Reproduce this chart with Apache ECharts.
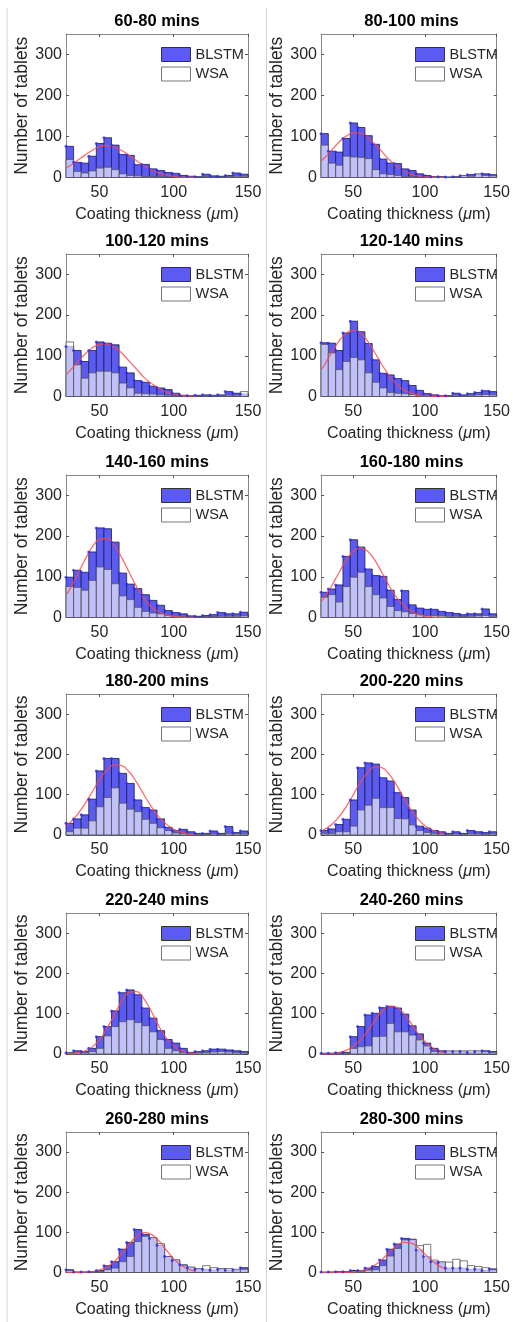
<!DOCTYPE html>
<html>
<head>
<meta charset="utf-8">
<script src="https://cdn.jsdelivr.net/npm/echarts@6/dist/echarts.min.js"></script>
<style>
  html, body { margin: 0; padding: 0; background: #fff; }
  #chart { width: 513px; height: 1322px; }
</style>
</head>
<body>
<div id="chart"></div>
<script>
// Coating-thickness histograms, one panel per 20-minute window.
const panelTitles = ['60-80 mins', '80-100 mins', '100-120 mins', '120-140 mins',
  '140-160 mins', '160-180 mins', '180-200 mins', '200-220 mins',
  '220-240 mins', '240-260 mins', '260-280 mins', '280-300 mins'];

// Histogram bins (µm): 24 equal bins from binLo to binHi
const binLo = 27.5;
const binHi = 150;
const binCount = 24;

const xTicks = [50, 100, 150];
const yTicks = [0, 100, 200, 300];

// Counts per bin, BLSTM and WSA
const blstm_60_80 = [76, 37, 35, 52, 83, 97, 79, 56, 54, 31, 32, 21, 17, 12, 10, 5, 3, 2, 8, 4, 3, 5, 11, 8];
const wsa_60_80   = [44, 15, 11, 16, 23, 25, 19, 9, 5, 4, 2, 2, 2, 1, 1, 1, 1, 0, 2, 1, 1, 2, 3, 3];

const blstm_80_100 = [107, 64, 62, 95, 133, 122, 102, 81, 45, 35, 34, 21, 17, 9, 5, 2, 2, 1, 2, 4, 7, 7, 9, 7];
const wsa_80_100   = [79, 35, 30, 52, 50, 49, 46, 19, 9, 7, 5, 2, 2, 1, 1, 1, 1, 1, 2, 5, 3, 9, 5, 4];

const blstm_100_120 = [123, 113, 86, 113, 134, 131, 127, 72, 58, 39, 35, 25, 21, 17, 8, 3, 2, 3, 4, 3, 4, 12, 8, 6];
const wsa_100_120   = [134, 78, 45, 58, 62, 62, 58, 33, 21, 8, 7, 6, 4, 3, 2, 1, 1, 1, 2, 2, 2, 3, 3, 12];

const blstm_120_140 = [132, 131, 113, 156, 185, 159, 130, 90, 57, 53, 44, 39, 27, 15, 7, 4, 2, 2, 8, 4, 7, 10, 14, 12];
const wsa_120_140   = [128, 107, 66, 86, 96, 90, 58, 35, 21, 10, 8, 7, 5, 3, 2, 1, 1, 1, 3, 2, 3, 4, 5, 4];

const blstm_140_160 = [99, 116, 111, 161, 220, 218, 185, 109, 82, 71, 56, 42, 30, 17, 12, 9, 4, 3, 5, 7, 12, 9, 9, 13];
const wsa_140_160   = [76, 74, 67, 91, 124, 118, 83, 53, 44, 25, 15, 11, 9, 5, 3, 2, 1, 1, 2, 2, 3, 3, 3, 4];

const blstm_160_180 = [62, 70, 80, 150, 191, 173, 119, 103, 101, 67, 44, 66, 31, 23, 20, 20, 15, 12, 10, 7, 9, 9, 21, 9];
const wsa_160_180   = [50, 56, 38, 76, 99, 111, 76, 56, 48, 27, 17, 14, 10, 7, 5, 5, 4, 3, 3, 2, 3, 4, 5, 3];

const blstm_180_200 = [29, 40, 50, 89, 159, 190, 190, 153, 128, 87, 68, 62, 40, 19, 11, 14, 8, 4, 4, 10, 4, 21, 6, 10];
const wsa_180_200   = [8, 17, 17, 35, 70, 93, 117, 79, 64, 58, 39, 29, 18, 11, 5, 4, 3, 2, 2, 3, 2, 4, 3, 3];

const blstm_200_220 = [11, 15, 26, 39, 87, 167, 179, 176, 142, 134, 105, 93, 62, 22, 17, 11, 8, 4, 8, 4, 11, 8, 6, 8];
const wsa_200_220   = [4, 4, 8, 8, 22, 62, 74, 91, 68, 68, 41, 40, 25, 11, 6, 4, 3, 2, 3, 2, 3, 3, 2, 3];

const blstm_220_240 = [3, 8, 6, 14, 43, 68, 107, 152, 159, 147, 114, 89, 58, 36, 27, 14, 4, 6, 8, 12, 12, 10, 8, 6];
const wsa_220_240   = [2, 4, 3, 6, 14, 45, 68, 80, 85, 78, 70, 55, 36, 14, 8, 4, 2, 3, 4, 5, 6, 5, 4, 3];

const blstm_240_260 = [2, 2, 3, 4, 43, 68, 97, 101, 115, 118, 114, 99, 70, 50, 27, 14, 8, 6, 6, 6, 4, 6, 8, 6];
const wsa_240_260   = [1, 1, 2, 2, 14, 18, 20, 43, 44, 76, 55, 55, 47, 35, 20, 6, 5, 8, 8, 8, 8, 8, 6, 4];

const blstm_260_280 = [7, 1, 1, 2, 5, 17, 27, 58, 75, 107, 95, 85, 68, 40, 30, 19, 12, 8, 8, 6, 8, 6, 6, 12];
const wsa_260_280   = [5, 1, 1, 1, 2, 7, 11, 27, 40, 77, 90, 87, 72, 40, 32, 18, 14, 10, 17, 12, 10, 10, 8, 8];

const blstm_280_300 = [1, 1, 2, 2, 5, 5, 11, 15, 31, 58, 71, 85, 83, 56, 40, 27, 25, 11, 11, 11, 8, 9, 5, 9];
const wsa_280_300   = [0, 1, 1, 2, 3, 3, 6, 7, 17, 41, 60, 81, 82, 67, 70, 31, 27, 26, 33, 29, 17, 15, 12, 7];

// Fitted normal curves, sampled at fitX
const fitX = [28, 30, 35, 40, 45, 50, 55, 60, 65, 70, 75, 80, 85, 90, 95, 100, 105, 110, 115];
const fit_60_80   = [24, 28, 41, 54, 66, 75, 78, 75, 66, 54, 41, 28, 18, 11, 6, 3, 1, 1, 0];
const fit_80_100  = [41, 48, 67, 86, 101, 109, 108, 98, 82, 63, 44, 28, 17, 9, 4, 2, 1, 0, 0];
const fit_100_120 = [55, 63, 83, 103, 119, 128, 129, 122, 107, 87, 67, 47, 32, 20, 11, 6, 3, 1, 1];
const fit_120_140 = [67, 78, 108, 136, 156, 163, 156, 136, 108, 78, 52, 31, 17, 9, 4, 2, 1, 0, 0];
const fit_140_160 = [57, 69, 104, 140, 172, 192, 194, 177, 147, 111, 76, 47, 26, 14, 6, 3, 1, 0, 0];
const fit_160_180 = [40, 50, 78, 110, 141, 163, 171, 163, 141, 110, 78, 50, 30, 16, 8, 3, 1, 0, 0];
const fit_180_200 = [23, 30, 50, 76, 106, 137, 161, 174, 172, 157, 131, 100, 70, 45, 27, 14, 7, 3, 1];
const fit_200_220 = [10, 14, 26, 45, 70, 100, 131, 155, 169, 167, 151, 125, 94, 64, 40, 23, 12, 6, 3];
const fit_220_240 = [0, 1, 3, 7, 17, 35, 63, 97, 131, 153, 155, 137, 105, 69, 40, 20, 9, 3, 1];
const fit_240_260 = [0, 0, 1, 4, 9, 19, 35, 57, 83, 106, 119, 117, 102, 78, 52, 31, 16, 7, 3];
const fit_260_280 = [0, 0, 0, 1, 2, 6, 14, 27, 47, 70, 90, 100, 95, 79, 56, 34, 18, 8, 3];
const fit_280_300 = [0, 0, 0, 0, 0, 1, 4, 9, 18, 32, 50, 66, 75, 74, 63, 46, 29, 16, 8];

const blstmSets = [blstm_60_80, blstm_80_100, blstm_100_120, blstm_120_140, blstm_140_160, blstm_160_180,
  blstm_180_200, blstm_200_220, blstm_220_240, blstm_240_260, blstm_260_280, blstm_280_300];
const wsaSets = [wsa_60_80, wsa_80_100, wsa_100_120, wsa_120_140, wsa_140_160, wsa_160_180,
  wsa_180_200, wsa_200_220, wsa_220_240, wsa_240_260, wsa_260_280, wsa_280_300];
const fitSets = [fit_60_80, fit_80_100, fit_100_120, fit_120_140, fit_140_160, fit_160_180,
  fit_180_200, fit_200_220, fit_220_240, fit_240_260, fit_260_280, fit_280_300];

// ---- layout & style ----
const FONT = '"Liberation Sans", Arial, Helvetica, sans-serif';
const TEXT = '#262626';
const BOX = '#8a8a8a';
const BLUE = '#5b5bf4';
const colLeft = [66, 321];
const colWidth = [182, 181];
const rowTop = [34, 254, 475, 694, 913, 1132];
const rowHeight = [143.5, 142.5, 142.5, 141, 141, 140.5];

const binWidth = (binHi - binLo) / binCount;
const binEdges = Array.from({ length: binCount + 1 }, (_, i) => binLo + i * binWidth);

function rectRenderer(fill, stroke) {
  return function (params, api) {
    const top = api.coord([api.value(0), api.value(2)]);
    const base = api.coord([api.value(1), 0]);
    return {
      type: 'rect',
      shape: { x: top[0], y: top[1], width: base[0] - top[0], height: base[1] - top[1] },
      style: { fill: fill, stroke: stroke, lineWidth: 1 }
    };
  };
}

const grids = [], xAxes = [], yAxes = [], series = [], titles = [], legends = [];

panelTitles.forEach((name, i) => {
  const row = Math.floor(i / 2), col = i % 2;
  const left = colLeft[col], width = colWidth[col];
  const top = rowTop[row], height = rowHeight[row];

  grids.push({ left: left, top: top, width: width, height: height, containLabel: false });

  const tickStyle = { show: true, inside: true, length: 3, lineStyle: { color: '#555', width: 1 } };
  const lineStyle = { show: true, onZero: false, lineStyle: { color: BOX, width: 1 } };

  xAxes.push({
    type: 'value', gridIndex: i, position: 'bottom', min: binLo, max: binHi,
    axisLine: lineStyle,
    axisTick: Object.assign({ customValues: xTicks }, tickStyle),
    axisLabel: { customValues: xTicks, fontSize: 16, color: TEXT, fontFamily: FONT, margin: 7 },
    splitLine: { show: false },
    name: 'Coating thickness ({it|\u03bc}m)', nameLocation: 'middle', nameGap: 29,
    nameTextStyle: { fontSize: 16, color: TEXT, fontFamily: FONT,
      rich: { it: { fontSize: 16, fontStyle: 'italic', color: TEXT, fontFamily: FONT } } }
  });
  xAxes.push({
    type: 'value', gridIndex: i, position: 'top', min: binLo, max: binHi,
    axisLine: lineStyle,
    axisTick: Object.assign({ customValues: xTicks }, tickStyle),
    axisLabel: { show: false }, splitLine: { show: false }
  });
  yAxes.push({
    type: 'value', gridIndex: i, position: 'left', min: 0, max: 350,
    axisLine: lineStyle,
    axisTick: Object.assign({ customValues: yTicks }, tickStyle),
    axisLabel: { customValues: yTicks, fontSize: 16, color: TEXT, fontFamily: FONT, margin: 4 },
    splitLine: { show: false },
    name: 'Number of tablets', nameLocation: 'middle', nameGap: 32,
    nameTextStyle: { fontSize: 17.5, color: TEXT, fontFamily: FONT }
  });
  yAxes.push({
    type: 'value', gridIndex: i, position: 'right', min: 0, max: 350,
    axisLine: lineStyle,
    axisTick: Object.assign({ customValues: yTicks }, tickStyle),
    axisLabel: { show: false }, splitLine: { show: false }
  });

  const bl = blstmSets[i], ws = wsaSets[i], fit = fitSets[i];
  const xi = 2 * i, yi = 2 * i;

  series.push({
    name: 'BLSTM', type: 'custom', xAxisIndex: xi, yAxisIndex: yi,
    renderItem: rectRenderer(BLUE, 'rgba(30,30,70,0.8)'),
    encode: { x: [0, 1], y: 2 },
    data: bl.map((v, k) => [binEdges[k], binEdges[k + 1], v]),
    z: 2, silent: true
  });
  series.push({
    name: 'WSA', type: 'custom', xAxisIndex: xi, yAxisIndex: yi,
    renderItem: rectRenderer('rgba(255,255,255,0.62)', 'rgba(80,80,90,0.75)'),
    encode: { x: [0, 1], y: 2 },
    data: ws.map((v, k) => [binEdges[k], binEdges[k + 1], v]),
    z: 3, silent: true
  });
  series.push({
    name: 'fit', type: 'line', xAxisIndex: xi, yAxisIndex: yi,
    data: fitX.map((x, k) => [x, fit[k]]),
    smooth: 0.4, showSymbol: false, symbol: 'none',
    lineStyle: { color: 'rgba(255,70,70,0.8)', width: 1.3 },
    z: 4, silent: true, animation: false
  });
  series.push({
    name: 'binTop', type: 'scatter', xAxisIndex: xi, yAxisIndex: yi,
    data: bl.map((v, k) => [binEdges[k], v]),
    symbolSize: 3, itemStyle: { color: '#2d2dff' },
    z: 5, silent: true
  });

  titles.push({
    text: name, left: left + width / 2, top: top - 12.5, padding: 0,
    textAlign: 'center', textVerticalAlign: 'middle',
    textStyle: { fontSize: 16.5, fontWeight: 'bold', color: '#000', fontFamily: FONT }
  });

  legends.push({
    orient: 'vertical', left: left + width - 87, top: top + 13,
    itemWidth: 29, itemHeight: 14, itemGap: 4.5, padding: 0, selectedMode: false,
    textStyle: { fontSize: 14.5, color: TEXT, fontFamily: FONT, lineHeight: 14 },
    data: [
      { name: 'BLSTM', icon: 'rect', itemStyle: { color: BLUE, borderColor: '#333', borderWidth: 1 } },
      { name: 'WSA', icon: 'rect', itemStyle: { color: '#fff', borderColor: '#777', borderWidth: 1 } }
    ]
  });
});

const chart = echarts.init(document.getElementById('chart'), null, { renderer: 'canvas' });
chart.setOption({
  backgroundColor: '#fff',
  animation: false,
  title: titles,
  legend: legends,
  grid: grids,
  xAxis: xAxes,
  yAxis: yAxes,
  series: series,
  graphic: [
    { type: 'line', shape: { x1: 7, y1: 8, x2: 7, y2: 1322 }, style: { stroke: '#d2d2d2', lineWidth: 1 }, silent: true },
    { type: 'line', shape: { x1: 266.5, y1: 8, x2: 266.5, y2: 1322 }, style: { stroke: '#d2d2d2', lineWidth: 1 }, silent: true }
  ]
});
</script>
</body>
</html>
